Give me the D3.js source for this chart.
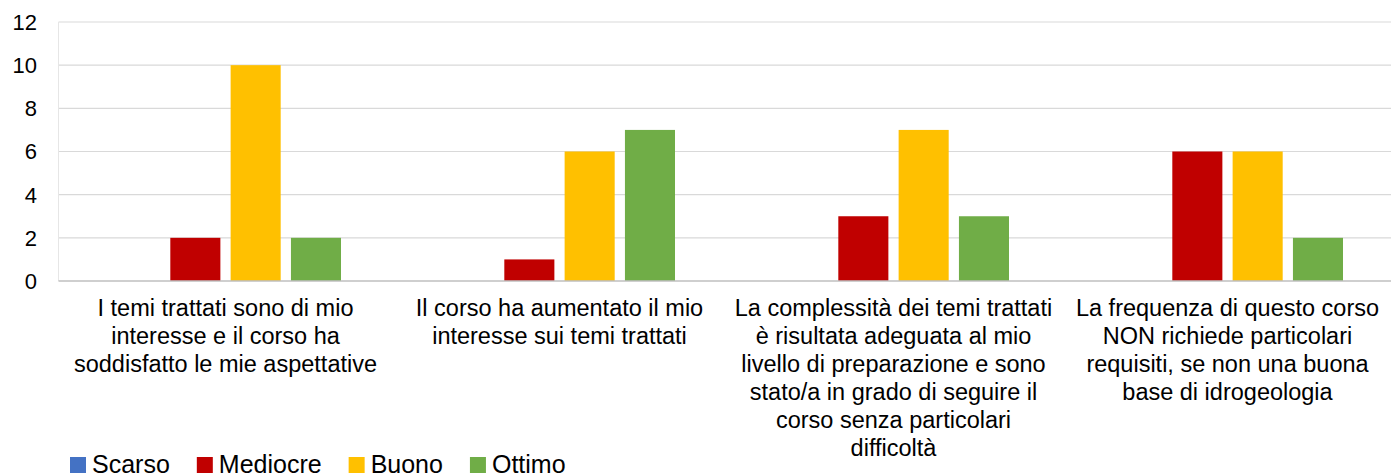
<!DOCTYPE html>
<html>
<head>
<meta charset="utf-8">
<script src="https://cdn.jsdelivr.net/npm/d3@7"></script>
<style>
  body { margin: 0; background: #fff; }
  text { font-family: "Liberation Sans", Arial, sans-serif; fill: #000; }
</style>
</head>
<body>
<svg id="chart" width="1391" height="474"></svg>
<script>
// data
var categories = [
  ["I temi trattati sono di mio", "interesse e il corso ha", "soddisfatto le mie aspettative"],
  ["Il corso ha aumentato il mio", "interesse sui temi trattati"],
  ["La complessità dei temi trattati", "è risultata adeguata al mio", "livello di preparazione e sono", "stato/a in grado di seguire il", "corso senza particolari", "difficoltà"],
  ["La frequenza di questo corso", "NON richiede particolari", "requisiti, se non una buona", "base di idrogeologia"]
];
var seriesNames = ["Scarso", "Mediocre", "Buono", "Ottimo"];
var scarso = [0, 0, 0, 0];
var mediocre = [2, 1, 3, 6];
var buono = [10, 6, 7, 6];
var ottimo = [2, 7, 3, 2];
var yTicks = [0, 2, 4, 6, 8, 10, 12];
var colors = ["#4472C4", "#C00000", "#FFC000", "#70AD47"];

var allSeries = [scarso, mediocre, buono, ottimo];

var svg = d3.select("#chart");
var plotLeft = 58.5, plotRight = 1394.5, plotTop = 22, plotBottom = 281;

var x = d3.scaleBand().domain(d3.range(categories.length)).range([plotLeft, plotRight]).padding(0);
var xInner = d3.scaleBand().domain(d3.range(seriesNames.length))
  .range([51.5, x.bandwidth() - 51.5]).paddingInner(0.17).paddingOuter(0);
var y = d3.scaleLinear().domain([0, 12]).range([plotBottom, plotTop]);

// gridlines
svg.append("g").selectAll("line")
  .data(yTicks.slice(1))
  .enter().append("line")
  .attr("x1", plotLeft).attr("x2", plotRight)
  .attr("y1", function(d) { return y(d); })
  .attr("y2", function(d) { return y(d); })
  .attr("stroke", "#d9d9d9").attr("stroke-width", 1.2);

svg.append("line")
  .attr("x1", plotLeft).attr("x2", plotLeft).attr("y1", plotTop).attr("y2", plotBottom)
  .attr("stroke", "#e6e6e6").attr("stroke-width", 1);

// y labels
svg.append("g").selectAll("text")
  .data(yTicks)
  .enter().append("text")
  .attr("x", 37)
  .attr("y", function(d) { return y(d); })
  .attr("dy", "0.36em")
  .attr("text-anchor", "end")
  .style("font-size", "22px")
  .text(function(d) { return d; });

// bars
seriesNames.forEach(function(name, s) {
  svg.append("g").selectAll("rect")
    .data(allSeries[s])
    .enter().append("rect")
    .attr("x", function(d, i) { return x(i) + xInner(s); })
    .attr("width", xInner.bandwidth())
    .attr("y", function(d) { return y(d); })
    .attr("height", function(d) { return y(0) - y(d); })
    .attr("fill", colors[s]);
});

// baseline
svg.append("line")
  .attr("x1", plotLeft).attr("x2", plotRight).attr("y1", plotBottom).attr("y2", plotBottom)
  .attr("stroke", "#bfbfbf").attr("stroke-width", 1.5);

// category labels
categories.forEach(function(lines, i) {
  var t = svg.append("text")
    .attr("text-anchor", "middle")
    .style("font-size", "23.5px");
  lines.forEach(function(l, k) {
    t.append("tspan")
      .attr("x", x(i) + x.bandwidth() / 2)
      .attr("y", 316 + k * 28)
      .text(l);
  });
});

// legend
var lx = 70;
seriesNames.forEach(function(name, s) {
  svg.append("rect")
    .attr("x", lx).attr("y", 457).attr("width", 16).attr("height", 16)
    .attr("fill", colors[s]);
  var t = svg.append("text")
    .attr("x", lx + 22).attr("y", 473)
    .style("font-size", "25px")
    .text(name);
  lx += 22 + t.node().getComputedTextLength() + 27;
});
</script>
</body>
</html>
